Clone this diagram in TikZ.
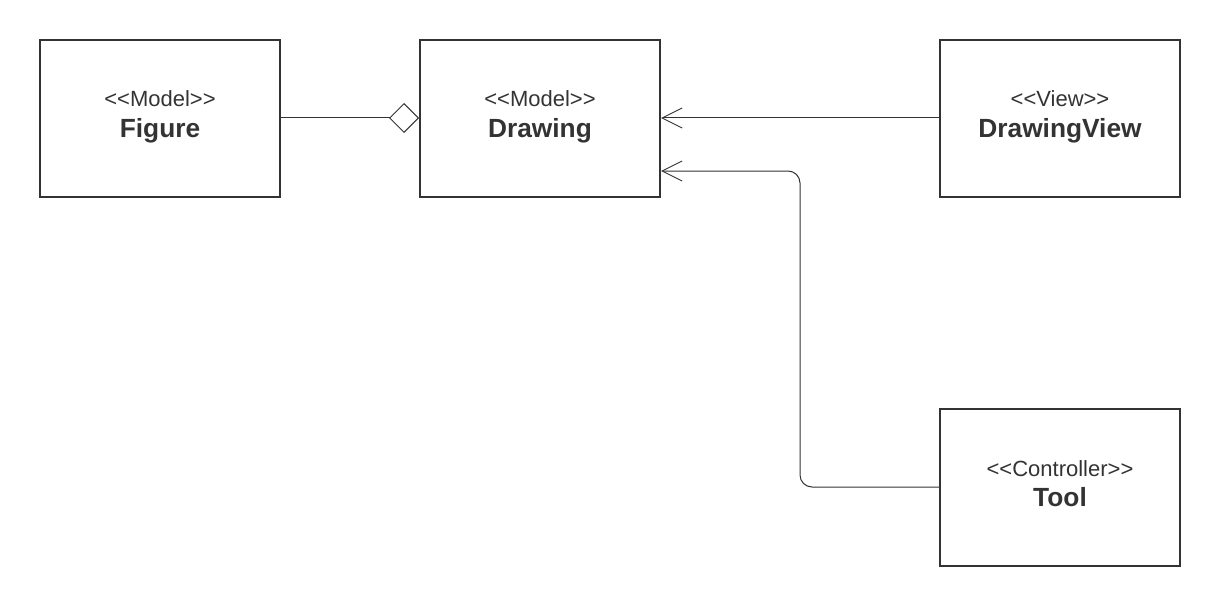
\documentclass[tikz,border=0pt]{standalone}
\usepackage{fontspec}
\setmainfont{Liberation Sans}
\usetikzlibrary{arrows.meta,shapes.geometric}
\definecolor{ink}{HTML}{333333}
\tikzset{
  cls/.style={draw=ink, line width=2pt, minimum width=240pt, minimum height=157pt, inner sep=0pt},
  stereo/.style={anchor=base, text=ink, font=\fontsize{22}{26}\selectfont, inner sep=0pt},
  title/.style={anchor=base, text=ink, font=\fontsize{26.3}{30}\selectfont\bfseries, inner sep=0pt},
  conn/.style={draw=ink, line width=1pt},
  openarrow/.style={-{Straight Barb[length=20pt,width=20pt,line width=1pt]}},
  aggr/.style={{Diamond[open,length=30pt,width=30pt,line width=1pt]}-}
}
\newcommand{\lt}{{<}{<}}
\newcommand{\gt}{{>}{>}}
\begin{document}
\begin{tikzpicture}[x=1pt,y=-1pt]
\useasboundingbox (0,0) rectangle (1220,607);
\node[cls] (fig) at (160,118.5) {};
\node[cls] (drw) at (540,118.5) {};
\node[cls] (dv) at (1060,118.5) {};
\node[cls] (tool) at (1060,487.5) {};
\node[stereo] (figS) at (160,107) {\lt Model\gt};
\node[title] (figT) at (160,137) {Figure};
\node[stereo] (drwS) at (540,107) {\lt Model\gt};
\node[title] (drwT) at (540,137) {Drawing};
\node[stereo] (dvS) at (1060,107) {\lt View\gt};
\node[title] (dvT) at (1060,137) {DrawingView};
\node[stereo] (toolS) at (1060,476) {\lt Controller\gt};
\node[title] (toolT) at (1060,506) {Tool};
\coordinate (drwA) at (drw.west |- 0,118);
\coordinate (figA) at (fig.east |- 0,118);
\draw[conn,aggr] (drwA) -- (figA);
\coordinate (dvA) at (dv.west |- 0,118);
\coordinate (drwB) at (drw.east |- 0,118);
\draw[conn,openarrow] (dvA) -- (drwB);
\coordinate (toolA) at (tool.west |- 0,487);
\coordinate (drwC) at (drw.east |- 0,171);
\draw[conn,openarrow,rounded corners=12pt] (toolA) -- (800,487) -- (800,171) -- (drwC);
\end{tikzpicture}
\end{document}
